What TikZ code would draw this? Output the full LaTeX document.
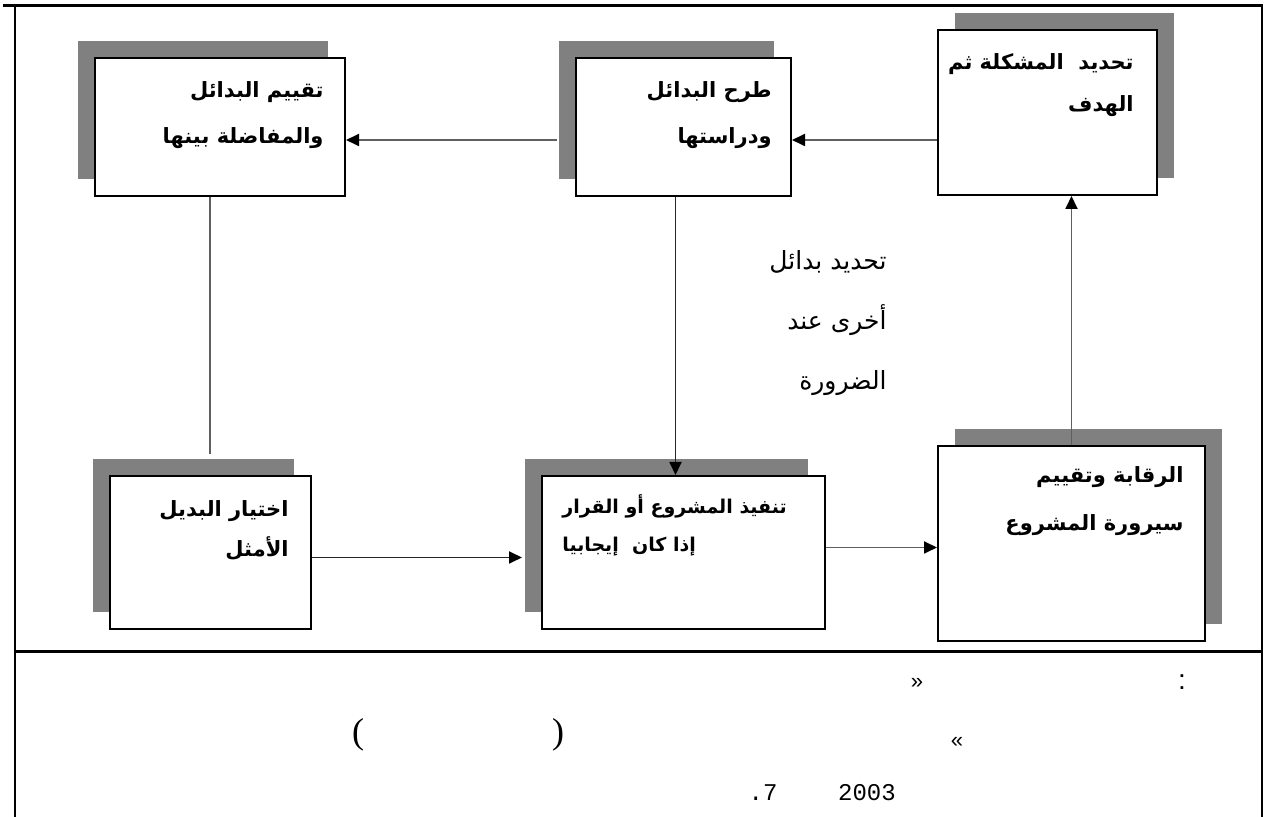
\documentclass[tikz,border=0pt]{standalone}
\usepackage{fontspec}
\setmainfont{Liberation Serif}
\newfontfamily\arabicfont[Script=Arabic]{DejaVu Sans}
\newfontfamily\monofont{Liberation Mono}
\newfontfamily\sansfont{Liberation Sans}
\TeXXeTstate=1
\usetikzlibrary{arrows.meta,positioning,calc,shadows}
\definecolor{shadegray}{RGB}{128,128,128}
\definecolor{linkgray}{RGB}{95,95,95}

\tikzset{
  stepbox/.style={draw, line width=1pt, fill=white, inner sep=0pt},
  shadeleft/.style={drop shadow={shadow xshift=-8.5pt, shadow yshift=8.5pt, fill=shadegray, opacity=1}},
  shaderight/.style={drop shadow={shadow xshift=8.5pt, shadow yshift=8.5pt, fill=shadegray, opacity=1}},
  boxtext/.style={inner sep=0pt, align=right, font=\arabicfont\bfseries\fontsize{10.5}{#1}\selectfont},
  boxtext/.default=23,
  notetext/.style={inner sep=0pt, align=right, font=\arabicfont\fontsize{12.5}{30}\selectfont},
  plainline/.style={line width=0.9pt, draw=linkgray},
  link/.style={plainline, -{Triangle[length=6.5pt,width=6pt,color=black]}},
  darklink/.style={link, draw=black!85}
}

\begin{document}
\begin{tikzpicture}[x=0.5pt,y=-0.5pt]
    \useasboundingbox (0,0) rectangle (1266,817);
    % frame
    \draw[line width=1.5pt] (3,6) -- (1263,6);
    \draw[line width=1pt] (15,6) -- (15,817);
    \draw[line width=1pt] (1262,6) -- (1262,817);
    \draw[line width=1.5pt] (15,652) -- (1263,652);

    % boxes
    \node[stepbox, shadeleft, minimum width=125pt, minimum height=69pt] (eval) at (220,127) {};
    \node[stepbox, shadeleft, minimum width=107.5pt, minimum height=69pt] (propose) at (683.5,127) {};
    \node[stepbox, shaderight, minimum width=109.5pt, minimum height=82.5pt] (define) at (1047.5,112.5) {};
    \node[stepbox, shadeleft, minimum width=100.5pt, minimum height=76.5pt] (choose) at (210.5,552.5) {};
    \node[stepbox, shadeleft, minimum width=141.5pt, minimum height=76.5pt] (execute) at (683.5,552.5) {};
    \node[stepbox, shaderight, minimum width=133.5pt, minimum height=97.5pt] (control) at (1071.5,543.5) {};

    \node[boxtext, below left=12pt and 11pt of eval.north east] (evaltxt)
        {\beginR تقييم البدائل\endR\\ \beginR والمفاضلة بينها\endR};
    \node[boxtext, below left=12pt and 10pt of propose.north east] (proposetxt)
        {\beginR طرح البدائل\endR\\ \beginR ودراستها\endR};
    \node[boxtext=21, below left=12pt and 12pt of define.north east] (definetxt)
        {\beginR تحديد~ المشكلة ثم\endR\\ \beginR الهدف\endR};
    \node[boxtext=20, below left=12.5pt and 11.5pt of choose.north east] (choosetxt)
        {\beginR اختيار البديل\endR\\ \beginR الأمثل\endR};
    \node[boxtext, align=left, font=\arabicfont\bfseries\fontsize{9.5}{19}\selectfont,
        below right=9.5pt and 10.5pt of execute.north west] (executetxt)
        {\beginR تنفيذ المشروع أو القرار\endR\\ \beginR إذا كان~ إيجابيا\endR};
    \node[boxtext=24, below left=10.5pt and 11pt of control.north east] (controltxt)
        {\beginR الرقابة وتقييم\endR\\ \beginR سيرورة المشروع\endR};

    \node[notetext, anchor=north east] (note) at (887,250)
        {\beginR تحديد بدائل\endR\\ \beginR أخرى عند\endR\\ \beginR الضرورة\endR};

    % connectors
    \coordinate (evalin) at ($(eval.east)+(0,13)$);
    \coordinate (proposein) at ($(propose.east)+(0,13)$);
    \coordinate (evaldown) at ($(eval.south)+(-10,0)$);
    \coordinate (chooseout) at ($(choose.east)+(0,5)$);
    \coordinate (proposedown) at ($(propose.south)+(-8,0)$);
    \coordinate (executeout) at ($(execute.east)+(0,-5)$);
    \draw[link] (proposein -| define.west) -- (proposein);
    \draw[link] ($(evalin -| propose.west)+(-18,0)$) -- (evalin);
    \draw[plainline] (evaldown) -- ($(evaldown |- choose.north)+(0,-21)$);
    \draw[darklink] (chooseout) -- ($(chooseout -| execute.west)+(-19,0)$);
    \draw[darklink] (proposedown) -- (proposedown |- execute.north);
    \draw[link] (executeout) -- (executeout -| control.west);
    \draw[link] (control.north) -- (control.north |- define.south);

    % source line
    \node[font=\sansfont\fontsize{14}{14}\selectfont] (colon) at (1182,682) {:};
    \node[font=\sansfont\fontsize{11}{11}\selectfont] (quoteright) at (917,683) {»};
    \node[font=\sansfont\fontsize{11}{11}\selectfont] (quoteleft) at (957,742) {«};
    \node[font=\fontsize{18}{18}\selectfont] (parenleft) at (358,735) {(};
    \node[font=\fontsize{18}{18}\selectfont] (parenright) at (558,735) {)};
    \node[font=\monofont\fontsize{12}{12}\selectfont] (page) at (763,793) {.7};
    \node[font=\monofont\fontsize{12}{12}\selectfont] (year) at (867,793) {2003};
\end{tikzpicture}
\end{document}
